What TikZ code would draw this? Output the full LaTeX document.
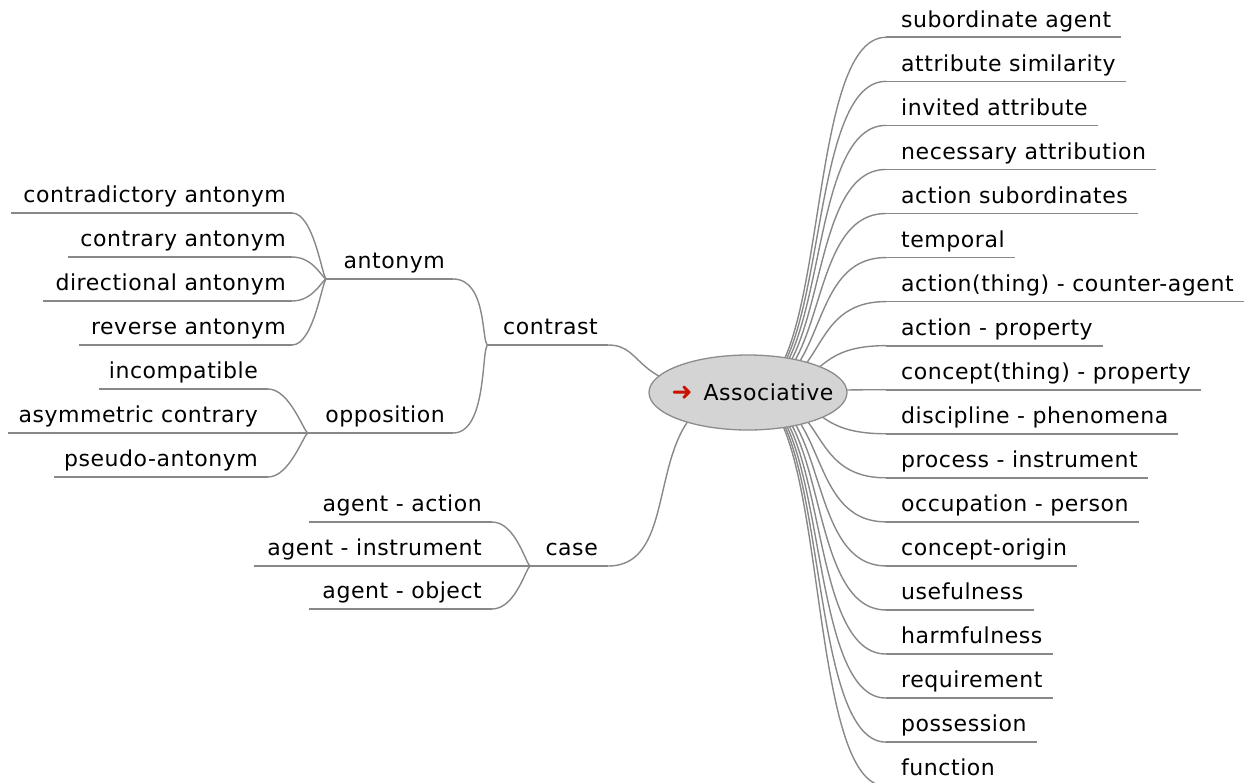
\documentclass[tikz,border=0pt]{standalone}
\usepackage{fontspec}
\setmainfont{DejaVu Sans}[LetterSpace=2.5]
\usetikzlibrary{shapes.geometric}
\pgfdeclarelayer{bg}
\pgfsetlayers{bg,main}
\definecolor{edgegray}{RGB}{136,136,136}
\definecolor{rootfill}{RGB}{212,212,212}
\definecolor{rootline}{RGB}{140,140,140}
\definecolor{arrowred}{RGB}{204,17,0}
\begin{document}
\begin{tikzpicture}[x=1pt, y=-1pt,
  leaf/.style 2 args={inner xsep=0pt, inner ysep=0pt, text height=16pt, text depth=10pt,
    font=\fontsize{22}{26}\selectfont,
    execute at begin node={\hspace*{#1}}, execute at end node={\hspace*{#2}}},
  edge/.style={draw=edgegray, line width=1.4pt},
  uline/.style={draw=edgegray, line width=1.7pt},
  rootnode/.style={ellipse, draw=rootline, fill=rootfill, line width=1.3pt,
    minimum width=198pt, minimum height=75pt, inner xsep=-15.5pt, inner ysep=0pt,
    font=\fontsize{22}{26}\selectfont}]
\useasboundingbox (0,0) rectangle (1250,782);

% central topic
\node[rootnode] (root) at (748,392.5) {\hspace*{9pt}\textcolor{arrowred}{\fontsize{25}{26}\selectfont ➜}\hspace{11pt}Associative};

% right-hand branches
\foreach \t [count=\i from 0] in {subordinate agent, attribute similarity, invited attribute,
  necessary attribution, action subordinates, temporal, action(thing) - counter-agent,
  action - property, concept(thing) - property, discipline - phenomena,
  process - instrument, occupation - person, concept-origin, usefulness,
  harmfulness, requirement, possession, function} {
  \node[leaf={15pt}{10pt}, anchor=south west] (r\i) at (886, {37.3+44.05*\i}) {\t};
  \draw[uline] (r\i.south west) -- (r\i.south east);
  \begin{pgfonlayer}{bg}
    \draw[edge] (root.center) .. controls +(82,0) and +(-82,0) .. (r\i.south west);
  \end{pgfonlayer}
}

% left-hand second level
\node[leaf={15pt}{10pt}, anchor=south east] (contrast) at (608,345) {contrast};
\node[leaf={15pt}{10pt}, anchor=south east] (case) at (608,566) {case};
\draw[uline] (contrast.south west) -- (contrast.south east);
\draw[uline] (case.south west) -- (case.south east);
\begin{pgfonlayer}{bg}
  \draw[edge] (root.center) .. controls +(-120,0) and +(40,0) .. (contrast.south east);
  \draw[edge] (root.center) .. controls +(-115,0) and +(82,0) .. (case.south east);
\end{pgfonlayer}

% contrast: antonym and opposition
\node[leaf={17pt}{8pt}, anchor=south east] (antonym) at (453,279) {antonym};
\node[leaf={17pt}{8pt}, anchor=south east] (opposition) at (453,433) {opposition};
\foreach \n in {antonym, opposition} {
  \draw[uline] (\n.south west) -- (\n.south east);
  \draw[edge] (contrast.south west) .. controls +(-7,0) and +(35,0) .. (\n.south east);
}

% antonym leaves
\foreach \t/\y/\n in {contradictory antonym/213/a1, contrary antonym/257/a2,
  directional antonym/301/a3, reverse antonym/345/a4} {
  \node[leaf={12pt}{6pt}, anchor=south east] (\n) at (292,\y) {\t};
  \draw[uline] (\n.south west) -- (\n.south east);
  \draw[edge] (antonym.south west) .. controls +(-4,0) and +(22,0) .. (\n.south east);
}

% opposition leaves
\foreach \t/\y/\n in {incompatible/389/o1, asymmetric contrary/433/o2, pseudo-antonym/477/o3} {
  \node[leaf={10pt}{10pt}, anchor=south east] (\n) at (268,\y) {\t};
  \draw[uline] (\n.south west) -- (\n.south east);
  \draw[edge] (opposition.south west) .. controls +(-4,0) and +(22,0) .. (\n.south east);
}

% case leaves
\foreach \t/\y/\n in {agent - action/522/c1, agent - instrument/566/c2, agent - object/609/c3} {
  \node[leaf={13pt}{10pt}, anchor=south east] (\n) at (492,\y) {\t};
  \draw[uline] (\n.south west) -- (\n.south east);
  \draw[edge] (case.south west) .. controls +(-4,0) and +(24,0) .. (\n.south east);
}
\end{tikzpicture}
\end{document}
